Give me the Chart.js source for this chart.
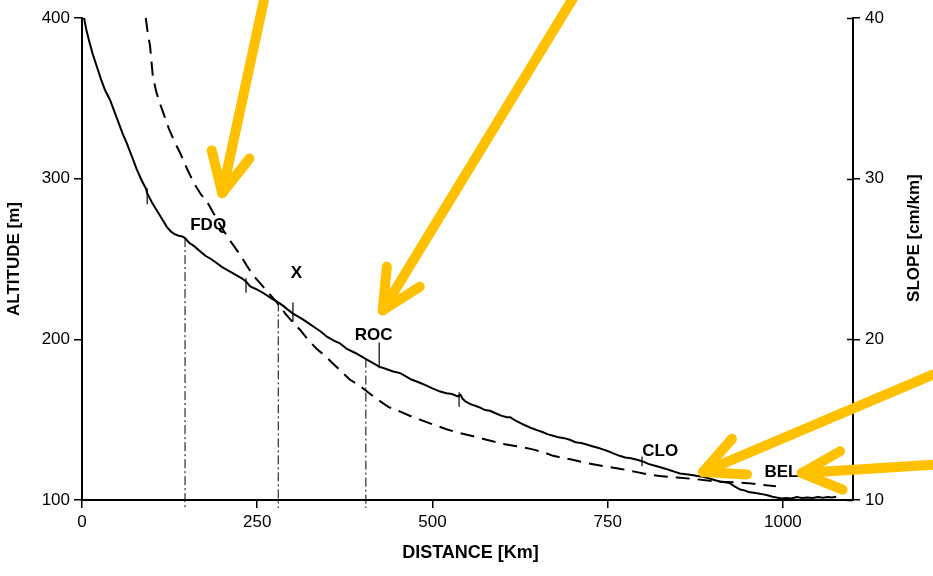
<!DOCTYPE html>
<html>
<head>
<meta charset="utf-8">
<title>Longitudinal profile and slope</title>
<script src="https://cdn.jsdelivr.net/npm/chart.js@4.4.1/dist/chart.umd.min.js"></script>
<style>
  html, body { margin: 0; padding: 0; background: #fff; }
  #wrap { width: 933px; height: 576px; }
</style>
</head>
<body>
<div id="wrap"><canvas id="profile" width="933" height="576"></canvas></div>
<script>
// River long profile: altitude along the course (solid) and channel slope (dashed)
const distKm = [0, 3, 6, 10, 15, 21, 27, 33, 40, 46, 52, 58, 64, 71, 78, 85, 91, 93, 100, 107,
  114, 121, 127, 132, 138, 143, 147, 153, 160, 168, 176, 184, 192, 200, 210, 220, 228, 234, 240, 250,
  258, 265, 272, 280, 288, 295, 301, 311, 320, 330, 340, 350, 360, 368, 378, 390, 404, 414, 424, 434,
  444, 454, 462, 470, 482, 490, 500, 511, 520, 528, 536, 540, 543, 548, 555, 562, 568, 575, 582, 590,
  598, 606, 611, 618, 625, 632, 640, 649, 656, 664, 672, 680, 688, 696, 704, 712, 720, 728, 736, 743,
  750, 758, 767, 775, 783, 792, 800, 808, 816, 824, 832, 839, 846, 853, 862, 870, 878, 886, 894, 902,
  910, 917, 924, 931, 939, 945, 951, 958, 965, 972, 978, 985, 991, 998, 1005, 1012, 1020, 1027, 1035, 1042,
  1050, 1057, 1064, 1070, 1076];
const altM = [400, 400, 393, 386, 378, 370, 362, 355, 349, 342, 335, 328, 322, 314, 306, 299, 294, 291, 285, 280,
  275, 270, 267, 265.5, 264.5, 264, 263, 260, 258, 255, 252, 250, 247.5, 245, 242.5, 240, 238, 236, 233, 231,
  229, 227, 225, 223, 220.5, 218, 216, 213.5, 211, 208, 205, 201.5, 199, 197.5, 194, 191.5, 188, 185.5, 183, 181.5,
  180, 179, 177, 175, 173, 171.5, 169.5, 167.5, 166.5, 166, 164.5, 165.5, 163, 161, 159.5, 158.5, 157.5, 156, 155.5, 154,
  152.5, 151.5, 151.5, 149.5, 148, 146.5, 145, 143.5, 142.5, 141, 140, 139, 138.5, 137.5, 136, 135.5, 134.5, 133.5, 132.5, 131.5,
  130.5, 129, 127.5, 126.5, 126, 125, 124, 122.5, 121.5, 120.5, 119.5, 118.5, 117.5, 116.5, 116, 115.5, 115, 114.5, 113.5, 112.5,
  111.5, 111, 110.5, 108.5, 106.5, 106, 105, 104.5, 104, 103.5, 103, 102, 101.5, 101, 101.2, 101, 101.8, 101.3, 101.6, 101.2,
  101.9, 101.4, 101.8, 101.5, 102];

const slopeKm = [91, 94, 97, 101, 106, 111, 116, 124, 132, 140, 150, 160, 170, 178, 187, 200, 212, 225, 235, 244,
  254, 264, 278, 290, 300, 311, 322, 335, 346, 358, 370, 382, 393, 404, 420, 437, 454, 470, 482, 501,
  520, 540, 560, 577, 600, 620, 643, 660, 672, 700, 720, 745, 767, 790, 806, 824, 849, 875, 906, 930,
  950, 970, 990];
const slopeCmKm = [40, 39, 38.3, 36.4, 35.4, 34.7, 34.1, 33.1, 32.3, 31.6, 30.6, 29.7, 29.0, 28.6, 27.9, 26.9, 26.1, 25.3, 24.6, 24.0,
  23.5, 23.0, 22.3, 21.6, 21.1, 20.6, 20.0, 19.4, 19.0, 18.5, 18.0, 17.5, 17.2, 16.85, 16.3, 15.8, 15.5, 15.2, 15.0, 14.7,
  14.4, 14.15, 13.95, 13.75, 13.5, 13.35, 13.15, 12.95, 12.75, 12.5, 12.3, 12.1, 11.95, 11.75, 11.6, 11.5, 11.4, 11.3, 11.15, 11.1,
  11.05, 10.95, 10.85];

// Reaches marked with drop lines down to the distance axis
const reachKm = [147, 280, 405];
const reachTopM = [263, 223, 188];
const reachFootM = 95;

// Short station marks crossing the profile
const stationKm = [93, 234, 301, 424, 538, 799];
const stationTopM = [294, 238, 223, 198, 167, 127];
const stationBaseM = [284, 229, 211, 182, 158, 121];

// Place names
const placeNames = ['FDQ', 'X', 'ROC', 'CLO', 'BEL'];
const placeKm = [180, 306, 416, 825, 998];
const placeM = [271, 241, 202.5, 130.5, 117.5];

// Highlight arrows (tail -> tip), in km / m
const arrowTailKm = [261, 703, 1214, 1214];
const arrowTailM = [414, 414, 178, 122];
const arrowTipKm = [200, 429, 886, 1027];
const arrowTipM = [291, 218, 117.4, 116.8];

// Axis ticks
const distTicks = [0, 250, 500, 750, 1000];
const altTicks = [100, 200, 300, 400];
const slopeTicks = [10, 20, 30, 40];

const FONT = '"Liberation Sans", Arial, Helvetica, sans-serif';
const INK = '#000';
const ARROW = '#FFC000';

const profilePts = distKm.map((d, i) => ({ x: d, y: altM[i] }));
const slopePts = slopeKm.map((d, i) => ({ x: d, y: slopeCmKm[i] }));
const stationPts = [];
stationKm.forEach((d, i) => {
  stationPts.push({ x: d, y: stationTopM[i] }, { x: d, y: stationBaseM[i] }, { x: d, y: null });
});

const reachSets = reachKm.map((d, i) => ({
  label: 'reach ' + i,
  data: [{ x: d, y: reachTopM[i] }, { x: d, y: reachFootM }],
  yAxisID: 'y',
  borderColor: INK,
  borderWidth: 1,
  borderDash: [9, 3, 2, 3],
  pointRadius: 0,
  clip: false
}));

const overlay = {
  id: 'overlay',
  afterDraw(chart) {
    const { ctx, chartArea, scales } = chart;
    const x = scales.x, y = scales.y, y2 = scales.y2;
    ctx.save();

    // inner half of the slope-axis ticks
    ctx.strokeStyle = INK;
    ctx.lineWidth = 1.5;
    slopeTicks.forEach(v => {
      const py = Math.round(y2.getPixelForValue(v)) + 0.5;
      ctx.beginPath();
      ctx.moveTo(chartArea.right - 6, py);
      ctx.lineTo(chartArea.right, py);
      ctx.stroke();
    });

    // place names
    ctx.fillStyle = INK;
    ctx.font = 'bold 17px ' + FONT;
    ctx.textAlign = 'center';
    ctx.textBaseline = 'middle';
    placeNames.forEach((name, i) => {
      ctx.fillText(name, x.getPixelForValue(placeKm[i]), y.getPixelForValue(placeM[i]));
    });

    // axis titles
    ctx.font = 'bold 18px ' + FONT;
    ctx.fillText('DISTANCE [Km]', (chartArea.left + chartArea.right) / 2 + 3, chartArea.bottom + 53);
    ctx.font = 'bold 17px ' + FONT;
    ctx.save();
    ctx.translate(14, (chartArea.top + chartArea.bottom) / 2);
    ctx.rotate(-Math.PI / 2);
    ctx.fillText('ALTITUDE [m]', 0, 0);
    ctx.restore();
    ctx.save();
    ctx.translate(chartArea.right + 61, y2.getPixelForValue(26.3));
    ctx.rotate(-Math.PI / 2);
    ctx.fillText('SLOPE [cm/km]', 0, 0);
    ctx.restore();

    // arrows
    ctx.strokeStyle = ARROW;
    ctx.lineWidth = 10;
    ctx.lineCap = 'round';
    ctx.lineJoin = 'round';
    const head = 44, spread = 26 * Math.PI / 180;
    arrowTipKm.forEach((_, i) => {
      const tx = x.getPixelForValue(arrowTipKm[i]), ty = y.getPixelForValue(arrowTipM[i]);
      const sx = x.getPixelForValue(arrowTailKm[i]), sy = y.getPixelForValue(arrowTailM[i]);
      const a = Math.atan2(sy - ty, sx - tx);
      ctx.beginPath();
      ctx.moveTo(sx, sy);
      ctx.lineTo(tx, ty);
      ctx.stroke();
      ctx.beginPath();
      ctx.moveTo(tx + head * Math.cos(a - spread), ty + head * Math.sin(a - spread));
      ctx.lineTo(tx, ty);
      ctx.lineTo(tx + head * Math.cos(a + spread), ty + head * Math.sin(a + spread));
      ctx.stroke();
    });
    ctx.restore();
  }
};

const axisGrid = { drawOnChartArea: false, tickLength: 8, color: INK, lineWidth: 1.5 };
const axisBorder = { display: true, color: INK, width: 2 };
const tickFont = { family: FONT, size: 17 };
const plainNumber = v => String(v);

Chart.defaults.font.family = FONT;
Chart.defaults.color = INK;

new Chart(document.getElementById('profile'), {
  type: 'line',
  data: {
    datasets: [
      {
        label: 'Altitude',
        data: profilePts,
        yAxisID: 'y',
        borderColor: INK,
        borderWidth: 2,
        pointRadius: 0,
        tension: 0
      },
      {
        label: 'Slope',
        data: slopePts,
        yAxisID: 'y2',
        borderColor: INK,
        borderWidth: 2,
        borderDash: [14, 8],
        pointRadius: 0,
        tension: 0,
        clip: false
      },
      {
        label: 'Stations',
        data: stationPts,
        yAxisID: 'y',
        borderColor: INK,
        borderWidth: 1.2,
        pointRadius: 0,
        spanGaps: false
      },
      ...reachSets
    ]
  },
  options: {
    responsive: false,
    animation: false,
    devicePixelRatio: 1,
    layout: { padding: { top: 18, left: 0, right: 0, bottom: 0 } },
    plugins: { legend: { display: false }, tooltip: { enabled: false } },
    scales: {
      x: {
        type: 'linear',
        min: 0,
        max: 1100,
        grid: axisGrid,
        border: axisBorder,
        ticks: { font: tickFont, padding: 4, maxRotation: 0, callback: plainNumber },
        afterBuildTicks: s => { s.ticks = distTicks.map(v => ({ value: v })); },
        afterFit: s => { s.height = 76; }
      },
      y: {
        type: 'linear',
        position: 'left',
        min: 100,
        max: 400,
        grid: axisGrid,
        border: axisBorder,
        ticks: { font: tickFont, padding: 4, callback: plainNumber },
        afterBuildTicks: s => { s.ticks = altTicks.map(v => ({ value: v })); },
        afterFit: s => { s.width = 82; }
      },
      y2: {
        type: 'linear',
        position: 'right',
        min: 10,
        max: 40,
        grid: { drawOnChartArea: false, tickLength: 7, color: INK, lineWidth: 1.5 },
        border: axisBorder,
        ticks: { font: tickFont, padding: 5, callback: plainNumber },
        afterBuildTicks: s => { s.ticks = slopeTicks.map(v => ({ value: v })); },
        afterFit: s => { s.width = 80; }
      }
    }
  },
  plugins: [overlay]
});
</script>
</body>
</html>
